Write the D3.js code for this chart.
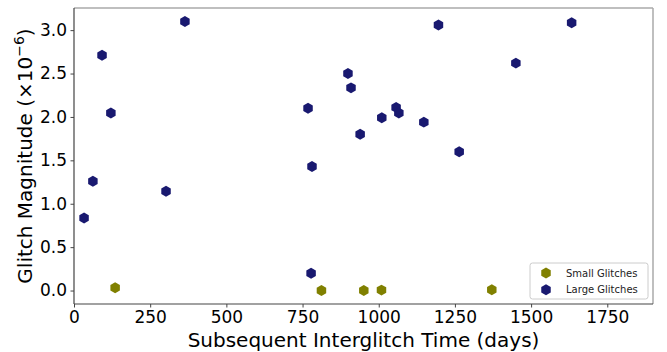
<!DOCTYPE html>
<html><head><meta charset="utf-8">
<script src="https://cdn.jsdelivr.net/npm/d3@7"></script>
<style>body{margin:0;background:#fff}svg{display:block}text{font-family:"DejaVu Sans",sans-serif}</style>
</head><body>
<svg id="c" width="667" height="352"></svg>
<script>
const largeX = [33, 62, 92, 121, 302, 364, 768, 781, 778, 899, 909, 939, 1010, 1057, 1066, 1148, 1196, 1264, 1450, 1633];
const largeY = [0.835, 1.26, 2.71, 2.045, 1.145, 3.10, 2.10, 1.43, 0.20, 2.50, 2.335, 1.80, 1.99, 2.11, 2.045, 1.94, 3.06, 1.60, 2.62, 3.085];
const smallX = [135, 812, 951, 1009, 1371];
const smallY = [0.033, 0.0, 0.0, 0.005, 0.01];
const xTicks = [0, 250, 500, 750, 1000, 1250, 1500, 1750];
const yTicks = [0.0, 0.5, 1.0, 1.5, 2.0, 2.5, 3.0];
const seriesNames = ["Small Glitches", "Large Glitches"];
const seriesColors = ["#808000", "#191970"];

const svg = d3.select("#c");
const L = 74, R = 653, T = 8, B = 304;
const x = d3.scaleLinear().domain([0, 1900]).range([L, R]);
const y = d3.scaleLinear().domain([-0.155, 3.255]).range([B, T]);

const hex = d3.symbol().type({draw(ctx, size){const r=Math.sqrt(size);for(let i=0;i<6;i++){const a=Math.PI/3*i+Math.PI/6;const px=r*Math.cos(a),py=r*Math.sin(a);i?ctx.lineTo(px,py):ctx.moveTo(px,py);}ctx.closePath();}}).size(30);

const xa = svg.append("g").attr("transform",`translate(0,${B})`).call(d3.axisBottom(x).tickValues(xTicks).tickFormat(d3.format("d")).tickSize(3.5).tickPadding(3.5));
const ya = svg.append("g").attr("transform",`translate(${L},0)`).call(d3.axisLeft(y).tickValues(yTicks).tickFormat(d3.format(".1f")).tickSize(3.5).tickPadding(3.5));
[xa, ya].forEach(a => {
  a.select(".domain").remove();
  a.selectAll(".tick line").attr("stroke","#444").attr("stroke-width",1);
  a.selectAll(".tick text").attr("font-size",17).attr("fill","#000").attr("font-family","DejaVu Sans");
});
// spines
svg.append("line").attr("x1",L).attr("x2",R).attr("y1",T).attr("y2",T).attr("stroke","#aaa").attr("stroke-width",1.5);
svg.append("line").attr("x1",R).attr("x2",R).attr("y1",T).attr("y2",B).attr("stroke","#aaa").attr("stroke-width",1.5);
svg.append("line").attr("x1",L).attr("x2",L).attr("y1",T).attr("y2",B).attr("stroke","#444").attr("stroke-width",1.2);
svg.append("line").attr("x1",L).attr("x2",R).attr("y1",B).attr("y2",B).attr("stroke","#444").attr("stroke-width",1.2);

const small = smallX.map((d,i)=>({x:d,y:smallY[i]}));
const large = largeX.map((d,i)=>({x:d,y:largeY[i]}));
svg.append("g").selectAll("path").data(small).join("path").attr("d",hex).attr("transform",d=>`translate(${x(d.x)},${y(d.y)})`).attr("fill",seriesColors[0]);
svg.append("g").selectAll("path").data(large).join("path").attr("d",hex).attr("transform",d=>`translate(${x(d.x)},${y(d.y)})`).attr("fill",seriesColors[1]);

// labels
svg.append("text").attr("x",(L+R)/2).attr("y",347).attr("text-anchor","middle").attr("font-size",20).text("Subsequent Interglitch Time (days)");
const yl = svg.append("text").attr("transform",`translate(32,${(T+B)/2}) rotate(-90)`).attr("text-anchor","middle").attr("font-size",20);
yl.append("tspan").text("Glitch Magnitude (×10");
yl.append("tspan").attr("font-size",14).attr("dy",-8).text("−6");
yl.append("tspan").attr("dy",8).text(")");

// legend
const lg = svg.append("g");
lg.append("rect").attr("x",530).attr("y",263).attr("width",118).attr("height",36).attr("rx",2.5).attr("fill","#fff").attr("fill-opacity",0.8).attr("stroke","#ccc").attr("stroke-width",1);
seriesNames.forEach((n,i)=>{
  const yy = 273 + i*16.7;
  lg.append("path").attr("d",hex).attr("transform",`translate(546,${yy})`).attr("fill",seriesColors[i]);
  lg.append("text").attr("x",566).attr("y",yy+3.6).attr("font-size",10).attr("fill","#222").text(n);
});
</script>
</body></html>
